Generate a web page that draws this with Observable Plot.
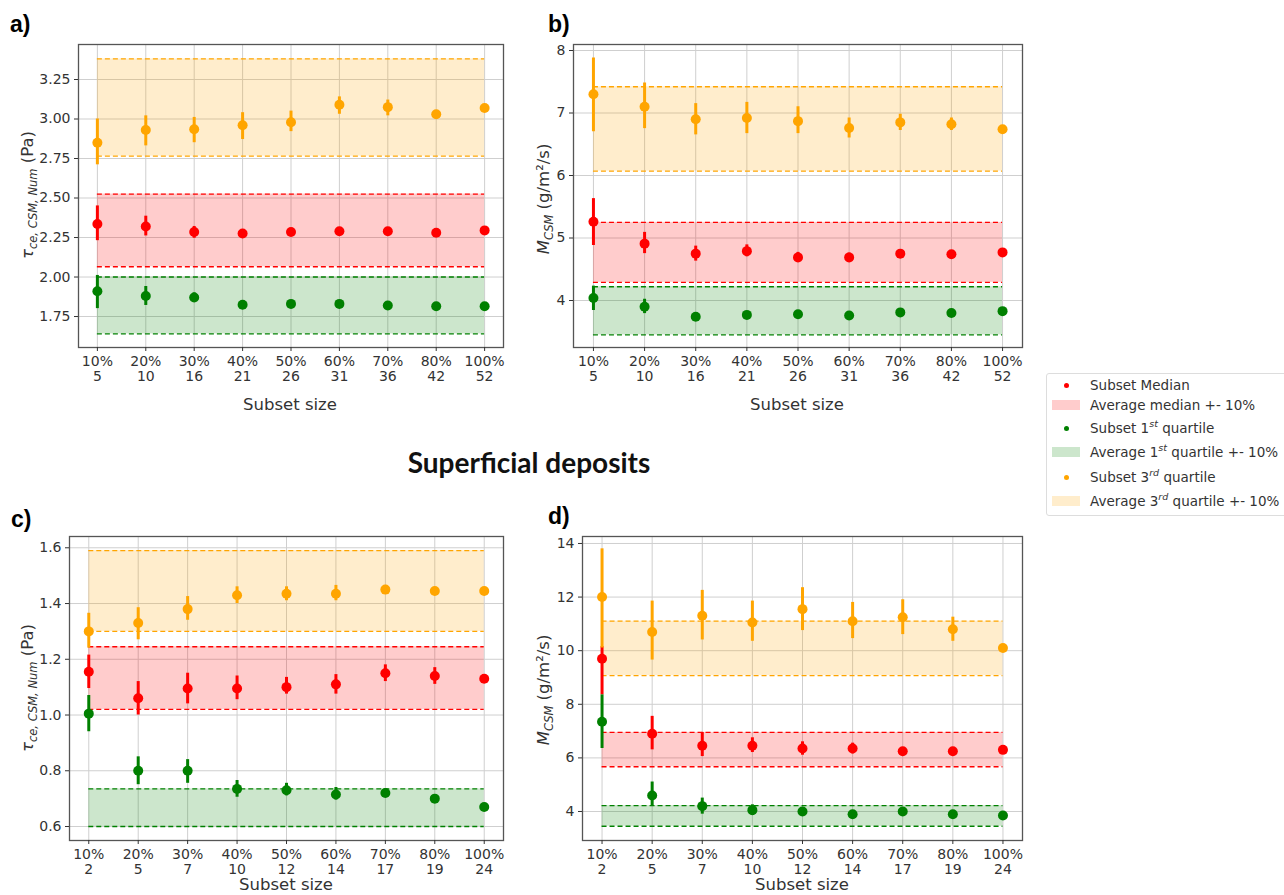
<!DOCTYPE html>
<html><head><meta charset="utf-8">
<script src="https://cdn.jsdelivr.net/npm/d3@7"></script>
<script src="https://cdn.jsdelivr.net/npm/@observablehq/plot@0.6"></script>
<style>
body{margin:0;background:#fff;width:1284px;height:895px;position:relative;overflow:hidden;font-family:"DejaVu Sans",sans-serif;color:#333;}
.panel{position:absolute;}
.plab{position:absolute;font-family:"Liberation Sans",Arial,sans-serif;font-weight:bold;font-size:23px;color:#000;}
.ylab{position:absolute;transform:translate(-50%,-50%) rotate(-90deg);white-space:nowrap;font-size:16.5px;color:#333;}
.xlab{position:absolute;transform:translate(-50%,-50%);font-size:16.5px;color:#333;white-space:nowrap;line-height:1;}
.title{position:absolute;left:529px;top:462px;transform:translate(-50%,-50%);font-family:Lato,sans-serif;font-weight:bold;font-size:28px;color:#111;white-space:nowrap;}
.legend{position:absolute;left:1046px;top:373px;width:260px;height:141px;border:1px solid #ddd;border-radius:3px;font-size:13.5px;color:#333;}
.lrow{position:absolute;left:0;height:20px;width:260px;}
.lrow .sym{position:absolute;}
.lrow .txt{position:absolute;left:43px;top:0;line-height:20px;white-space:nowrap;}
sup{font-style:italic;font-size:9.5px;vertical-align:6px;line-height:0;}
sub{font-style:italic;font-size:11.5px;vertical-align:-4px;line-height:0;}
</style>
</head><body>
<script>
// ---------- data ----------
const pctLabels = ["10%","20%","30%","40%","50%","60%","70%","80%","100%"];
const sizesTop = [5,10,16,21,26,31,36,42,52];
const sizesBottom = [2,5,7,10,12,14,17,19,24];

// panel a
const aMed   = [2.335,2.32,2.285,2.275,2.285,2.29,2.29,2.28,2.295];
const aMedLo = [2.23,2.26,2.245,2.255,2.27,2.28,2.28,2.27,null];
const aMedHi = [2.45,2.385,2.32,2.30,2.30,2.30,2.30,2.29,null];
const aQ1    = [1.91,1.88,1.87,1.825,1.83,1.83,1.82,1.815,1.815];
const aQ1Lo  = [1.80,1.82,1.84,1.80,1.815,1.82,1.81,1.805,null];
const aQ1Hi  = [2.01,1.94,1.90,1.85,1.845,1.845,1.83,1.825,null];
const aQ3    = [2.85,2.93,2.935,2.96,2.98,3.09,3.075,3.03,3.07];
const aQ3Lo  = [2.71,2.83,2.85,2.87,2.92,3.03,3.02,3.00,null];
const aQ3Hi  = [3.00,3.02,3.01,3.04,3.05,3.14,3.12,3.05,null];
const aMedBand = [2.065,2.525];
const aQ1Band  = [1.64,2.00];
const aQ3Band  = [2.765,3.38];
const aYTicks  = [1.75,2.00,2.25,2.50,2.75,3.00,3.25];

// panel b
const bMed   = [5.26,4.91,4.75,4.79,4.69,4.69,4.75,4.74,4.77];
const bMedLo = [4.88,4.75,4.63,4.70,4.62,4.63,4.70,4.70,null];
const bMedHi = [5.63,5.09,4.87,4.89,4.77,4.76,4.79,4.78,null];
const bQ1    = [4.04,3.90,3.74,3.77,3.78,3.76,3.81,3.80,3.83];
const bQ1Lo  = [3.84,3.79,3.70,3.72,3.75,3.73,3.79,3.78,null];
const bQ1Hi  = [4.23,4.02,3.79,3.81,3.81,3.79,3.83,3.82,null];
const bQ3    = [7.30,7.10,6.90,6.92,6.87,6.76,6.85,6.82,6.74];
const bQ3Lo  = [6.70,6.75,6.65,6.67,6.67,6.60,6.72,6.72,null];
const bQ3Hi  = [7.88,7.48,7.15,7.17,7.10,6.92,6.98,6.92,null];
const bMedBand = [4.29,5.25];
const bQ1Band  = [3.45,4.22];
const bQ3Band  = [6.07,7.42];
const bYTicks  = [4,5,6,7,8];

// panel c
const cMed   = [1.155,1.06,1.095,1.095,1.10,1.11,1.15,1.14,1.13];
const cMedLo = [1.095,1.00,1.04,1.055,1.075,1.075,1.12,1.11,null];
const cMedHi = [1.215,1.12,1.15,1.14,1.135,1.145,1.18,1.17,null];
const cQ1    = [1.005,0.80,0.80,0.735,0.73,0.715,0.72,0.70,0.67];
const cQ1Lo  = [0.94,0.75,0.755,0.705,0.71,0.695,0.705,0.695,null];
const cQ1Hi  = [1.07,0.85,0.84,0.765,0.755,0.74,0.735,0.71,null];
const cQ3    = [1.30,1.33,1.38,1.43,1.435,1.435,1.45,1.445,1.445];
const cQ3Lo  = [1.24,1.27,1.34,1.40,1.41,1.41,1.44,1.44,null];
const cQ3Hi  = [1.365,1.385,1.425,1.46,1.46,1.465,1.465,1.45,null];
const cMedBand = [1.02,1.245];
const cQ1Band  = [0.60,0.735];
const cQ3Band  = [1.30,1.59];
const cYTicks  = [0.6,0.8,1.0,1.2,1.4,1.6];

// panel d
const dMed   = [9.7,6.9,6.45,6.45,6.35,6.35,6.25,6.25,6.3];
const dMedLo = [8.35,6.3,6.05,6.2,6.1,6.15,6.15,6.2,null];
const dMedHi = [10.15,7.55,6.95,6.75,6.6,6.55,6.35,6.3,null];
const dQ1    = [7.35,4.6,4.2,4.05,4.0,3.9,4.0,3.9,3.85];
const dQ1Lo  = [6.35,4.2,3.9,3.85,3.85,3.8,3.95,3.85,null];
const dQ1Hi  = [8.35,5.1,4.5,4.25,4.15,3.95,4.05,3.95,null];
const dQ3    = [12.0,10.7,11.3,11.05,11.55,11.1,11.25,10.8,10.1];
const dQ3Lo  = [10.1,9.65,10.4,10.35,10.75,10.45,10.6,10.35,null];
const dQ3Hi  = [13.8,11.85,12.25,11.85,12.35,11.8,11.9,11.25,null];
const dMedBand = [5.67,6.95];
const dQ1Band  = [3.45,4.22];
const dQ3Band  = [9.07,11.1];
const dYTicks  = [4,6,8,10,12,14];

const RED = "#ff0000", GREEN = "#008000", ORANGE = "#ffa500";

function makePanel(cfg) {
  const idx = d3.range(pctLabels.length);
  const rows = (v, lo, hi) => idx.map(i => ({i, v: v[i], lo: lo[i], hi: hi[i]}));
  const series = [
    {color: RED, data: rows(cfg.med, cfg.medLo, cfg.medHi), band: cfg.medBand},
    {color: GREEN, data: rows(cfg.q1, cfg.q1Lo, cfg.q1Hi), band: cfg.q1Band},
    {color: ORANGE, data: rows(cfg.q3, cfg.q3Lo, cfg.q3Hi), band: cfg.q3Band}
  ];
  const last = idx.length - 1;
  const marks = [
    Plot.gridX(idx, {stroke: "#cfcfcf", strokeOpacity: 1}),
    Plot.gridY(cfg.yTicks, {stroke: "#cfcfcf", strokeOpacity: 1}),
  ];
  for (const s of series) {
    marks.push(Plot.rect([s.band], {x1: 0, x2: last, y1: d => d[0], y2: d => d[1], fill: s.color, fillOpacity: 0.2}));
  }
  for (const s of series) {
    marks.push(Plot.ruleY(s.band, {x1: 0, x2: last, stroke: s.color, strokeWidth: 1.3, strokeDasharray: "5,3"}));
  }
  for (const s of series) {
    marks.push(Plot.ruleX(s.data.filter(d => d.lo != null), {x: "i", y1: "lo", y2: "hi", stroke: s.color, strokeWidth: 3}));
    marks.push(Plot.dot(s.data, {x: "i", y: "v", r: 5, fill: s.color}));
  }
  marks.push(Plot.frame({stroke: "#555", strokeWidth: 1.3}));
  marks.push(Plot.axisX(idx, {tickFormat: i => `${pctLabels[i]}\n${cfg.sizes[i]}`, tickSize: 4, tickPadding: 4, label: null, fontSize: 14, lineHeight: 1.07}));
  marks.push(Plot.axisY(cfg.yTicks, {tickFormat: cfg.yFmt, tickSize: 4, tickPadding: 4, label: null, fontSize: 14}));
  const svg = Plot.plot({
    width: cfg.w, height: cfg.h,
    marginLeft: cfg.ml, marginRight: cfg.mr, marginTop: cfg.mt, marginBottom: cfg.mb,
    x: {type: "linear", domain: [-0.39, last + 0.39], axis: null},
    y: {type: "linear", domain: cfg.yDomain, axis: null},
    style: {fontFamily: "DejaVu Sans", fontSize: "14px", color: "#333", background: "transparent"},
    marks
  });
  const div = document.createElement("div");
  div.className = "panel";
  div.style.left = cfg.left + "px";
  div.style.top = cfg.top + "px";
  div.appendChild(svg);
  document.body.appendChild(div);
}

makePanel({left: 0, top: 0, w: 520, h: 420, ml: 78, mr: 17, mt: 44, mb: 73,
  yDomain: [1.554, 3.4715], yTicks: aYTicks, yFmt: d3.format(".2f"), sizes: sizesTop,
  med: aMed, medLo: aMedLo, medHi: aMedHi, q1: aQ1, q1Lo: aQ1Lo, q1Hi: aQ1Hi, q3: aQ3, q3Lo: aQ3Lo, q3Hi: aQ3Hi,
  medBand: aMedBand, q1Band: aQ1Band, q3Band: aQ3Band});
makePanel({left: 520, top: 0, w: 520, h: 420, ml: 53, mr: 18, mt: 44, mb: 73,
  yDomain: [3.248, 8.096], yTicks: bYTicks, yFmt: d3.format("d"), sizes: sizesTop,
  med: bMed, medLo: bMedLo, medHi: bMedHi, q1: bQ1, q1Lo: bQ1Lo, q1Hi: bQ1Hi, q3: bQ3, q3Lo: bQ3Lo, q3Hi: bQ3Hi,
  medBand: bMedBand, q1Band: bQ1Band, q3Band: bQ3Band});
makePanel({left: 0, top: 490, w: 520, h: 405, ml: 69, mr: 17, mt: 46, mb: 55,
  yDomain: [0.5498, 1.6405], yTicks: cYTicks, yFmt: d3.format(".1f"), sizes: sizesBottom,
  med: cMed, medLo: cMedLo, medHi: cMedHi, q1: cQ1, q1Lo: cQ1Lo, q1Hi: cQ1Hi, q3: cQ3, q3Lo: cQ3Lo, q3Hi: cQ3Hi,
  medBand: cMedBand, q1Band: cQ1Band, q3Band: cQ3Band});
makePanel({left: 520, top: 490, w: 520, h: 405, ml: 62, mr: 18, mt: 46, mb: 55,
  yDomain: [2.918, 14.26], yTicks: dYTicks, yFmt: d3.format("d"), sizes: sizesBottom,
  med: dMed, medLo: dMedLo, medHi: dMedHi, q1: dQ1, q1Lo: dQ1Lo, q1Hi: dQ1Hi, q3: dQ3, q3Lo: dQ3Lo, q3Hi: dQ3Hi,
  medBand: dMedBand, q1Band: dQ1Band, q3Band: dQ3Band});
</script>

<div class="plab" style="left:10px;top:11px;">a)</div>
<div class="plab" style="left:548px;top:11px;">b)</div>
<div class="plab" style="left:11px;top:506px;">c)</div>
<div class="plab" style="left:548px;top:503px;">d)</div>

<div class="ylab" style="left:27px;top:195px;"><i>τ</i><sub>ce, CSM, Num</sub> (Pa)</div>
<div class="ylab" style="left:543px;top:199px;"><i>M</i><sub>CSM</sub> (g/m²/s)</div>
<div class="ylab" style="left:27px;top:688px;"><i>τ</i><sub>ce, CSM, Num</sub> (Pa)</div>
<div class="ylab" style="left:543px;top:690px;"><i>M</i><sub>CSM</sub> (g/m²/s)</div>

<div class="xlab" style="left:290px;top:405px;">Subset size</div>
<div class="xlab" style="left:797px;top:405px;">Subset size</div>
<div class="xlab" style="left:286px;top:885px;">Subset size</div>
<div class="xlab" style="left:802px;top:885px;">Subset size</div>

<div class="title">Superficial deposits</div>

<div class="legend">
  <div class="lrow" style="top:1px;"><div class="sym" style="left:17px;top:8px;width:5px;height:5px;border-radius:50%;background:#ff0000;"></div><div class="txt">Subset Median</div></div>
  <div class="lrow" style="top:21px;"><div class="sym" style="left:5px;top:5px;width:28px;height:10px;background:rgba(255,0,0,0.2);"></div><div class="txt">Average median +- 10%</div></div>
  <div class="lrow" style="top:44px;"><div class="sym" style="left:17px;top:8px;width:5px;height:5px;border-radius:50%;background:#008000;"></div><div class="txt">Subset 1<sup>st</sup> quartile</div></div>
  <div class="lrow" style="top:68px;"><div class="sym" style="left:5px;top:5px;width:28px;height:10px;background:rgba(0,128,0,0.2);"></div><div class="txt">Average 1<sup>st</sup> quartile +- 10%</div></div>
  <div class="lrow" style="top:93px;"><div class="sym" style="left:17px;top:8px;width:5px;height:5px;border-radius:50%;background:#ffa500;"></div><div class="txt">Subset 3<sup>rd</sup> quartile</div></div>
  <div class="lrow" style="top:117px;"><div class="sym" style="left:5px;top:5px;width:28px;height:10px;background:rgba(255,165,0,0.2);"></div><div class="txt">Average 3<sup>rd</sup> quartile +- 10%</div></div>
</div>
</body></html>
